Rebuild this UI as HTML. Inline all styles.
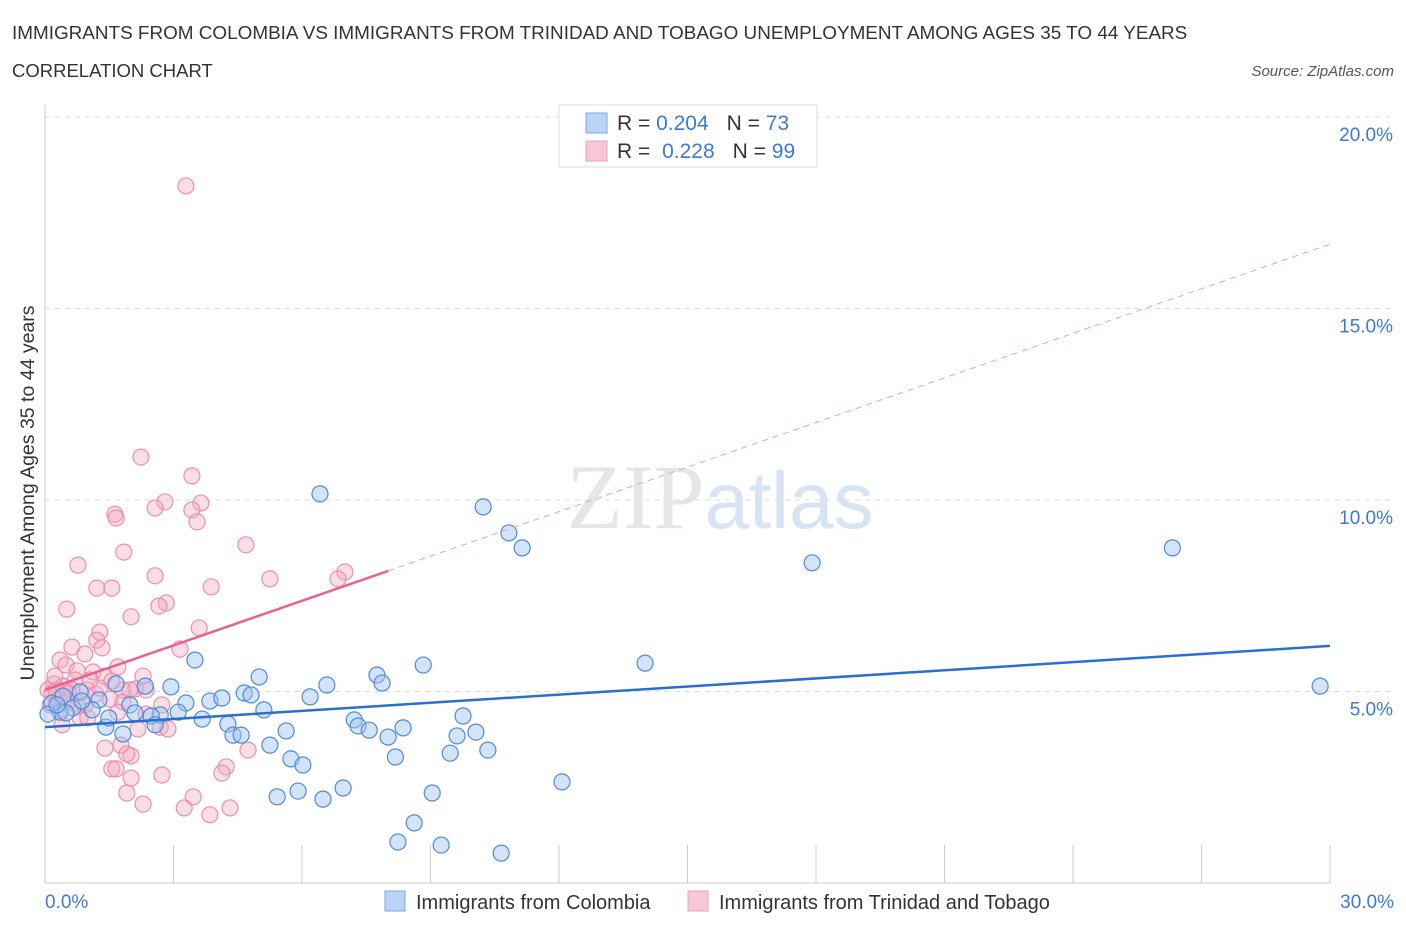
<!DOCTYPE html>
<html><head><meta charset="utf-8"><style>
body{margin:0;background:#fff;font-family:"Liberation Sans",sans-serif}
</style></head><body>
<svg width="1406" height="930" xmlns="http://www.w3.org/2000/svg" font-family="Liberation Sans, sans-serif">
<text x="12" y="39" font-size="18.9" fill="#333">IMMIGRANTS FROM COLOMBIA VS IMMIGRANTS FROM TRINIDAD AND TOBAGO UNEMPLOYMENT AMONG AGES 35 TO 44 YEARS</text>
<text x="12" y="77" font-size="18.5" fill="#333">CORRELATION CHART</text>
<text x="1394" y="76" font-size="15" fill="#555" text-anchor="end" font-style="italic">Source: ZipAtlas.com</text>
<text x="720" y="528" font-size="92" text-anchor="middle" fill="#e6e6e6"><tspan font-family="Liberation Serif, serif">ZIP</tspan><tspan fill="#d8e4f4" font-size="80">atlas</tspan></text>
<g id="grid"></g>
<g id="axes"></g>
<g id="points"></g>
<g id="trends"></g>
<text transform="translate(34,493) rotate(-90)" font-size="19.5" fill="#333" text-anchor="middle">Unemployment Among Ages 35 to 44 years</text>
<g>
<rect x="559" y="105" width="258" height="62" fill="#fff" stroke="#ddd"/>
<rect x="586" y="113" width="21" height="20" fill="#b9d4f6" stroke="#7aa8e6"/>
<rect x="586" y="141" width="21" height="20" fill="#f9c6d6" stroke="#eca0b8"/>
<text x="617" y="130" font-size="21" fill="#333">R = <tspan fill="#3a7bd5">0.204</tspan><tspan dx="18">N = </tspan><tspan fill="#3a7bd5">73</tspan></text>
<text x="617" y="158" font-size="21" fill="#333">R = <tspan dx="6" fill="#3a7bd5">0.228</tspan><tspan dx="18">N = </tspan><tspan fill="#3a7bd5">99</tspan></text>
</g>
<g>
<rect x="385" y="891" width="20" height="20" fill="#b9d4f6" stroke="#7aa8e6"/>
<text x="416" y="909" font-size="20" fill="#333">Immigrants from Colombia</text>
<rect x="688" y="891" width="20" height="20" fill="#f9c6d6" stroke="#eca0b8"/>
<text x="719" y="909" font-size="20" fill="#333">Immigrants from Trinidad and Tobago</text>
</g>
</svg>
<script>
const yTicks=[5,10,15,20];
const yTickLabels=["5.0%","10.0%","15.0%","20.0%"];
const xTickLabels=["0.0%","30.0%"];
const colX=[6.42,10.23,10.83,11.14,17.91,26.32,29.77,14.01,8.83,7.75,7.87,6.58,6.19,5.0,3.5,2.94,2.34,1.66,3.85,4.13,4.65,4.81,3.29,3.11,3.67,4.27,4.39,4.58,5.11,5.63,5.25,5.74,6.02,5.42,5.91,6.49,6.96,7.22,7.31,7.57,8.01,8.18,8.36,9.76,9.62,10.06,9.46,10.34,9.04,12.07,8.62,8.24,9.25,10.65,1.98,1.82,1.42,1.49,1.26,0.82,1.1,0.65,0.35,0.16,0.07,0.42,2.69,2.48,2.57,2.1,0.86,0.49,0.28];
const colY=[10.16,9.82,9.14,8.75,8.36,8.75,5.14,5.74,5.69,5.43,5.22,5.17,4.86,5.38,5.82,5.12,5.14,5.2,4.75,4.83,4.96,4.91,4.7,4.46,4.28,4.15,3.86,3.86,4.52,3.97,3.6,3.24,3.08,2.25,2.4,2.19,2.48,4.26,4.1,3.99,3.81,3.29,4.05,4.36,3.84,3.94,3.39,3.47,2.35,2.64,1.57,1.07,0.99,0.78,4.65,3.89,4.07,4.31,4.78,4.99,4.52,4.57,4.46,4.7,4.41,4.88,4.39,4.36,4.13,4.44,4.75,4.44,4.65];
const triX=[3.29,2.24,3.43,2.8,2.57,3.64,3.43,3.55,1.63,1.66,4.69,0.77,1.84,5.25,2.57,7.0,6.84,1.21,1.56,3.88,0.51,2.83,2.66,2.01,3.6,3.15,1.28,1.21,0.63,0.93,1.33,0.35,0.49,1.7,2.29,0.75,1.12,1.38,1.82,2.12,0.21,0.42,0.7,0.98,1.19,1.52,1.82,0.3,0.16,0.07,0.58,0.82,1.0,0.4,2.36,2.73,2.69,2.17,2.87,1.4,1.77,2.01,1.91,1.56,1.66,2.73,4.23,4.13,4.74,1.91,2.29,3.25,3.46,3.85,4.32,2.01,0.26,0.12,0.35,0.63,0.93,1.28,1.56,0.23,0.54,2.36,1.7,1.98,1.05,0.77];
const triY=[18.2,11.12,10.63,9.95,9.79,9.92,9.74,9.43,9.63,9.53,8.83,8.3,8.64,7.94,8.02,8.12,7.94,7.7,7.7,7.73,7.15,7.31,7.23,6.95,6.66,6.11,6.55,6.34,6.16,5.98,6.14,5.82,5.69,5.64,5.4,5.54,5.51,5.4,5.04,5.07,5.2,5.14,5.3,5.04,4.93,4.8,4.73,4.8,4.96,5.04,4.78,4.31,4.31,4.13,4.41,4.65,4.07,4.02,4.02,3.52,3.6,3.32,3.37,2.98,2.98,2.82,3.03,2.87,3.47,2.35,2.06,1.96,2.25,1.78,1.96,2.74,5.04,4.65,4.52,5.04,4.65,5.09,5.27,5.4,4.96,5.04,4.46,5.04,5.3,4.62];
const colTrend=[4.07,6.19];
const triTrend=[5.04,0.388];
const NS="http://www.w3.org/2000/svg";
const X0=45,X1=1330,Y0=883,YPX=38.3;
const xs=v=>X0+v*(X1-X0)/30, ys=v=>Y0-v*YPX;
function mk(t,a,p){const e=document.createElementNS(NS,t);for(const k in a)e.setAttribute(k,a[k]);p.appendChild(e);return e;}
const grid=document.getElementById('grid'),axes=document.getElementById('axes'),pts=document.getElementById('points'),tr=document.getElementById('trends');
yTicks.forEach((v,i)=>{
 const l=mk('line',{x1:X0,x2:1390,y1:ys(v),y2:ys(v),stroke:'#ddd','stroke-dasharray':'5,5'},grid);
 
 
 const t=mk('text',{x:1393,y:ys(v)+24,'font-size':19,fill:'#3a7bd5','text-anchor':'end'},axes);
 t.textContent=yTickLabels[i];
 
 
});
const ax=mk('line',{x1:X0,x2:X0,y1:105,y2:Y0,stroke:'#ccc'},axes);


const bx=mk('line',{x1:X0,x2:X1,y1:Y0,y2:Y0,stroke:'#ccc'},axes);


for(let i=0;i<=10;i++){const t=mk('line',{x1:xs(i*3),x2:xs(i*3),y1:845,y2:Y0,stroke:'#ccc'},axes);
 
 }
[[0,'start',45],[30,'end',1394]].forEach((d,i)=>{const t=mk('text',{x:d[2],y:908,'font-size':19,fill:'#3a7bd5','text-anchor':d[1]},axes);t.textContent=xTickLabels[i];
 
 });
triX.forEach((v,i)=>{const c=mk('circle',{cx:xs(v),cy:ys(triY[i]),r:8,fill:'rgba(246,170,192,0.4)',stroke:'#eb8fae','stroke-width':1.2},pts);
 
 });
colX.forEach((v,i)=>{const c=mk('circle',{cx:xs(v),cy:ys(colY[i]),r:8,fill:'rgba(160,196,240,0.45)',stroke:'#4f8ad8','stroke-width':1.2},pts);
 
 });
const bl=mk('line',{x1:xs(0),y1:ys(colTrend[0]),x2:xs(30),y2:ys(colTrend[1]),stroke:'#2a6fd0','stroke-width':2.5},tr);


const pxEnd=8.01;
const pl=mk('line',{x1:xs(0),y1:ys(triTrend[0]),x2:xs(pxEnd),y2:ys(triTrend[0]+triTrend[1]*pxEnd),stroke:'#e8628e','stroke-width':2.5},tr);


const pd=mk('line',{x1:xs(pxEnd),y1:ys(triTrend[0]+triTrend[1]*pxEnd),x2:xs(30),y2:ys(triTrend[0]+triTrend[1]*30),stroke:'#eba0b8','stroke-width':1,'stroke-dasharray':'6,5'},tr);


</script>
</body></html>
